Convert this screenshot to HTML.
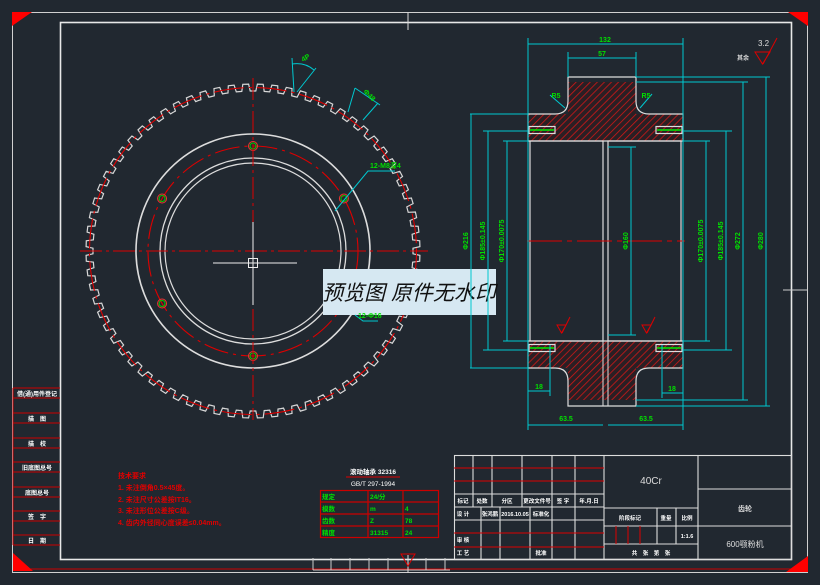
<!DOCTYPE html>
<html><head><meta charset="utf-8"><style>
html,body{margin:0;padding:0;background:#212830;}
svg{display:block;}
text{font-family:"Liberation Sans","Noto Sans CJK SC",sans-serif;}
</style></head><body>
<svg id="s" width="820" height="585" viewBox="0 0 820 585" xmlns="http://www.w3.org/2000/svg">
<rect width="820" height="585" fill="#212830"/>
<defs>
<pattern id="h" width="5" height="5" patternUnits="userSpaceOnUse" patternTransform="rotate(45)">
<rect width="5" height="5" fill="#2a1f24"/><line x1="0" y1="0" x2="0" y2="5" stroke="#d01818" stroke-width="1.6"/></pattern>
</defs>
<rect x="12.5" y="12.5" width="795" height="560" fill="none" stroke="#d0d0d0" stroke-width="1"/>
<rect x="60.5" y="22.5" width="731" height="537" fill="none" stroke="#e8e8e8" stroke-width="1.6"/>
<line x1="13" y1="569" x2="807" y2="569" stroke="#c00" stroke-width="1"/>
<polygon points="12,12 32,12 12,26" fill="#f00"/>
<polygon points="808,12 788,12 808,26" fill="#f00"/>
<polygon points="13,553 13,571 33,571" fill="#f00"/>
<polygon points="808,556 808,572 786,572" fill="#f00"/>
<line x1="408" y1="12" x2="408" y2="30" stroke="#ddd"/>
<line x1="408" y1="555" x2="408" y2="573" stroke="#ddd"/>
<polygon points="401,554 415,554 408,566" fill="none" stroke="#d00"/>
<line x1="783" y1="290" x2="808" y2="290" stroke="#ccc"/>
<g stroke="#c00" fill="none" stroke-width="1">
<line x1="13" y1="388" x2="13" y2="545"/>
<line x1="13" y1="388" x2="60" y2="388"/><line x1="13" y1="398" x2="60" y2="398"/>
<line x1="13" y1="413" x2="60" y2="413"/><line x1="13" y1="423" x2="60" y2="423"/>
<line x1="13" y1="438" x2="60" y2="438"/><line x1="13" y1="448" x2="60" y2="448"/>
<line x1="13" y1="462" x2="60" y2="462"/><line x1="13" y1="472" x2="60" y2="472"/>
<line x1="13" y1="487" x2="60" y2="487"/><line x1="13" y1="497" x2="60" y2="497"/>
<line x1="13" y1="511" x2="60" y2="511"/><line x1="13" y1="521" x2="60" y2="521"/>
<line x1="13" y1="535" x2="60" y2="535"/><line x1="13" y1="545" x2="60" y2="545"/>
</g>
<g fill="#fff" font-size="6" font-weight="bold" text-anchor="middle">
<text x="37" y="396">借(通)用件登记</text><text x="37" y="421">描　图</text><text x="37" y="446">描　校</text>
<text x="37" y="470">旧底图总号</text><text x="37" y="495">底图总号</text><text x="37" y="519">签　字</text><text x="37" y="543">日　期</text>
</g>
<g stroke="#ccc" fill="none"><path d="M313 558v12M331 558v12M350 558v12M369 558v12M388 558v12M426 558v12M445 558v12M313 570h137"/></g>
<g id="gear"></g>
<rect x="323" y="269" width="173" height="46" fill="#d6e8f2"/>
<text x="409" y="300" font-size="21" font-style="italic" text-anchor="middle" fill="#111">预览图 原件无水印</text>
<g stroke="#00c8d0" fill="none">
<line x1="292" y1="58" x2="294" y2="92"/><line x1="316" y1="68" x2="297" y2="92"/>
<path d="M292 64 Q305 62 314 70"/>
<line x1="355" y1="88" x2="348" y2="112"/><line x1="378" y1="103" x2="363" y2="120"/><line x1="355" y1="88" x2="380" y2="105"/>
<polyline points="335,211 368,171 395,171"/>
<polyline points="355,315 363,321 378,321"/>
</g>
<g fill="#00e000" font-size="7" font-weight="bold">
<text x="303" y="62" transform="rotate(-30 303 62)">4P</text>
<text x="363" y="92" transform="rotate(45 363 92)">Φ48</text>
<text x="370" y="168">12-M8深4</text>
<text x="358" y="318">12-Φ16</text>
</g>
<g fill="#e00000" font-size="7" font-weight="bold">
<text x="118" y="478">技术要求</text>
<text x="118" y="490">1. 未注倒角0.5×45度。</text>
<text x="118" y="502">2. 未注尺寸公差按IT16。</text>
<text x="118" y="513">3. 未注形位公差按C级。</text>
<text x="118" y="525">4. 齿内外径同心度误差≤0.04mm。</text>
</g>
<text x="373" y="474" fill="#fff" font-size="6.5" font-weight="bold" text-anchor="middle">滚动轴承 32316</text>
<line x1="346" y1="477" x2="400" y2="477" stroke="#d00"/>
<text x="373" y="486" fill="#fff" font-size="6.5" text-anchor="middle">GB/T 297-1994</text>
<g stroke="#c00" fill="none" stroke-width="1.2">
<rect x="320.5" y="490.5" width="118" height="47"/>
<line x1="320" y1="502" x2="438" y2="502"/><line x1="320" y1="514" x2="438" y2="514"/><line x1="320" y1="526" x2="438" y2="526"/>
<line x1="368" y1="490" x2="368" y2="538"/><line x1="403" y1="490" x2="403" y2="538"/>
</g>
<g fill="#00e000" font-size="6.5" font-weight="bold">
<text x="322" y="499">规定</text><text x="370" y="499">24/分</text>
<text x="322" y="511">模数</text><text x="370" y="511">m</text><text x="405" y="511">4</text>
<text x="322" y="523">齿数</text><text x="370" y="523">Z</text><text x="405" y="523">78</text>
<text x="322" y="535">精度</text><text x="370" y="535">31315</text><text x="405" y="535">24</text>
</g>
<g stroke="#ddd" fill="none" stroke-width="1.1">
<rect x="454.5" y="455.5" width="337" height="104"/>
<line x1="604" y1="455" x2="604" y2="559"/><line x1="698" y1="455" x2="698" y2="559"/>
<line x1="698" y1="489" x2="792" y2="489"/><line x1="698" y1="526" x2="792" y2="526"/>
<line x1="454" y1="494" x2="604" y2="494"/><line x1="454" y1="507" x2="604" y2="507"/><line x1="454" y1="520" x2="604" y2="520"/>
<line x1="604" y1="508" x2="698" y2="508"/><line x1="604" y1="526" x2="698" y2="526"/><line x1="604" y1="544" x2="698" y2="544"/>
<line x1="473" y1="455" x2="473" y2="507"/><line x1="492" y1="455" x2="492" y2="507"/><line x1="522" y1="455" x2="522" y2="507"/>
<line x1="552" y1="455" x2="552" y2="559"/><line x1="575" y1="455" x2="575" y2="559"/>
<line x1="481" y1="507" x2="481" y2="559"/><line x1="500" y1="507" x2="500" y2="559"/><line x1="530" y1="507" x2="530" y2="559"/>
<line x1="657" y1="508" x2="657" y2="544"/><line x1="676" y1="508" x2="676" y2="544"/>
</g>
<g stroke="#d00" stroke-width="1">
<line x1="454" y1="468" x2="604" y2="468"/><line x1="454" y1="481" x2="604" y2="481"/>
<line x1="454" y1="533" x2="604" y2="533"/><line x1="454" y1="547" x2="604" y2="547"/>
<line x1="616" y1="526" x2="616" y2="544"/><line x1="628" y1="526" x2="628" y2="544"/><line x1="640" y1="526" x2="640" y2="544"/>
</g>
<g fill="#fff" font-size="5.5" font-weight="bold" text-anchor="middle">
<text x="463" y="503">标记</text><text x="482" y="503">处数</text><text x="507" y="503">分区</text><text x="537" y="503">更改文件号</text><text x="563" y="503">签 字</text><text x="589" y="503">年.月.日</text>
<text x="463" y="516">设 计</text><text x="490" y="516">张鸿鹏</text><text x="515" y="516">2016.10.05</text><text x="541" y="516">标准化</text>
<text x="463" y="542">审 核</text><text x="463" y="555">工 艺</text><text x="541" y="555">批准</text>
<text x="630" y="520">阶段标记</text><text x="666" y="520">重量</text><text x="687" y="520">比例</text>
<text x="687" y="538">1:1.6</text><text x="651" y="555">共　张　第　张</text>
</g>
<text x="651" y="484" fill="#ddd" font-size="10" text-anchor="middle">40Cr</text>
<text x="745" y="511" fill="#ddd" font-size="7" font-weight="bold" text-anchor="middle">齿轮</text>
<text x="745" y="547" fill="#ddd" font-size="8" text-anchor="middle">600颚粉机</text>
<g id="side"></g>
</svg>
<script>
var NS="http://www.w3.org/2000/svg";
function el(p,t,a){var e=document.createElementNS(NS,t);for(var k in a)e.setAttribute(k,a[k]);p.appendChild(e);return e;}
var g=document.getElementById("gear"),cx=253,cy=251;
var N=72,ro=167,ri=160,d="";
for(var i=0;i<N;i++){var a0=i*2*Math.PI/N,st=2*Math.PI/N;
 var pts=[[ri,a0],[ri,a0+st*0.2],[ro,a0+st*0.3],[ro,a0+st*0.7],[ri,a0+st*0.8]];
 pts.forEach(function(p,j){var x=cx+p[0]*Math.cos(p[1]),y=cy+p[0]*Math.sin(p[1]);d+=(i==0&&j==0?"M":"L")+x.toFixed(1)+" "+y.toFixed(1);});}
d+="Z";
el(g,"path",{d:d,fill:"none",stroke:"#d8d8d8","stroke-width":1.2});
el(g,"circle",{cx:cx,cy:cy,r:163.5,fill:"none",stroke:"#d00","stroke-width":1.1,"stroke-dasharray":"30 5 3 5"});
el(g,"circle",{cx:cx,cy:cy,r:117,fill:"none",stroke:"#ddd","stroke-width":1.6});
el(g,"circle",{cx:cx,cy:cy,r:105,fill:"none",stroke:"#d00","stroke-width":1.1,"stroke-dasharray":"25 5 3 5"});
el(g,"circle",{cx:cx,cy:cy,r:93,fill:"none",stroke:"#ddd","stroke-width":1.3});
el(g,"circle",{cx:cx,cy:cy,r:88,fill:"none",stroke:"#ddd","stroke-width":1.2});
for(var k=0;k<6;k++){var an=(30+60*k)*Math.PI/180,x=cx+105*Math.cos(an),y=cy-105*Math.sin(an);
 el(g,"circle",{cx:x,cy:y,r:4.5,fill:"none",stroke:"#e33","stroke-width":1});
 el(g,"circle",{cx:x,cy:y,r:3,fill:"none",stroke:"#0c0","stroke-width":1});}
el(g,"line",{x1:80,y1:cy,x2:428,y2:cy,stroke:"#d00","stroke-dasharray":"22 4 3 4"});
el(g,"line",{x1:cx,y1:78,x2:cx,y2:420,stroke:"#d00","stroke-dasharray":"22 4 3 4"});
el(g,"line",{x1:213,y1:263,x2:297,y2:263,stroke:"#eee"});
el(g,"line",{x1:cx,y1:222,x2:cx,y2:305,stroke:"#eee"});
el(g,"rect",{x:248.5,y:258.5,width:9,height:9,fill:"none",stroke:"#eee"});
var s=document.getElementById("side");
el(s,"path",{d:"M568 82H636V114H683V141H528V114H568Z",fill:"url(#h)"});
el(s,"path",{d:"M528 341H683V368H636V400H568V368H528Z",fill:"url(#h)"});
var W={fill:"none",stroke:"#ddd","stroke-width":1.2};
el(s,"path",Object.assign({d:"M528 114H555Q568 114 568 101V77H636V101Q636 114 649 114H683V141H528Z"},W));
el(s,"path",Object.assign({d:"M528 368H555Q568 368 568 381V406H636V381Q636 368 649 368H683V341H528Z"},W));
el(s,"rect",Object.assign({x:530,y:141,width:73,height:200},W));
el(s,"rect",Object.assign({x:608,y:141,width:73,height:200},W));
el(s,"line",{x1:603,y1:141,x2:603,y2:406,stroke:"#ddd"});el(s,"line",{x1:608,y1:141,x2:608,y2:406,stroke:"#ddd"});
[[130],[348]].forEach(function(r){var y=r[0];
 el(s,"rect",Object.assign({x:529,y:y-3.5,width:26,height:7},W));
 el(s,"rect",Object.assign({x:656,y:y-3.5,width:26,height:7},W));
 el(s,"line",{x1:530,y1:y,x2:554,y2:y,stroke:"#0e0","stroke-width":1.5});
 el(s,"line",{x1:657,y1:y,x2:681,y2:y,stroke:"#0e0","stroke-width":1.5});});
el(s,"line",{x1:527,y1:241,x2:685,y2:241,stroke:"#d00","stroke-dasharray":"35 5 5 5"});
var C={stroke:"#00c8d0","stroke-width":1,fill:"none"};
function L(x1,y1,x2,y2){el(s,"line",Object.assign({x1:x1,y1:y1,x2:x2,y2:y2},C));}
function T(x,y,t,r){var e=el(s,"text",{x:x,y:y,fill:"#00e000","font-size":7,"font-weight":"bold","text-anchor":"middle",transform:r?"rotate(-90 "+x+" "+y+")":""});e.textContent=t;}
L(528,38,528,430);L(683,38,683,430);L(528,44,683,44);T(605,42,"132");
L(568,52,568,77);L(636,52,636,77);L(568,58,636,58);T(602,56,"57");
L(470,114,528,114);L(470,368,528,368);L(471,114,471,368);T(468,241,"Φ216",1);
L(483,131,528,131);L(483,350,528,350);L(488,131,488,350);T(485,241,"Φ185±0.145",1);
L(503,141,528,141);L(503,341,528,341);L(507,141,507,341);T(504,241,"Φ170±0.0075",1);
L(608,147,636,147);L(608,335,636,335);L(631,147,631,335);T(628,241,"Φ160",1);
L(683,141,710,141);L(683,341,710,341);L(706,141,706,341);T(703,241,"Φ170±0.0075",1);
L(683,131,732,131);L(683,350,732,350);L(726,131,726,350);T(723,241,"Φ185±0.145",1);
L(636,82,748,82);L(636,400,748,400);L(743,82,743,400);T(740,241,"Φ272",1);
L(636,77,770,77);L(636,406,770,406);L(766,77,766,406);T(763,241,"Φ280",1);
L(550,345,550,396);L(528,391,550,391);T(539,389,"18");
L(662,345,662,398);L(662,393,683,393);T(672,391,"18");
L(528,425,603,425);L(608,425,683,425);T(566,421,"63.5");T(646,421,"63.5");
L(550,95,565,108);L(640,108,652,94);T(556,98,"R5");T(646,98,"R5");
el(s,"path",{d:"M557 325h9l-4.5 8zM562 333l8-16M642 325h9l-4.5 8zM647 333l8-16",stroke:"#d00",fill:"none"});
el(s,"path",{d:"M755 52h15l-7.5 12zM763 64l14-26",stroke:"#d00",fill:"none"});
var t=el(s,"text",{x:758,y:46,fill:"#ddd","font-size":8});t.textContent="3.2";
t=el(s,"text",{x:737,y:60,fill:"#ddd","font-size":6,"font-weight":"bold"});t.textContent="其余";
</script>
</body></html>
